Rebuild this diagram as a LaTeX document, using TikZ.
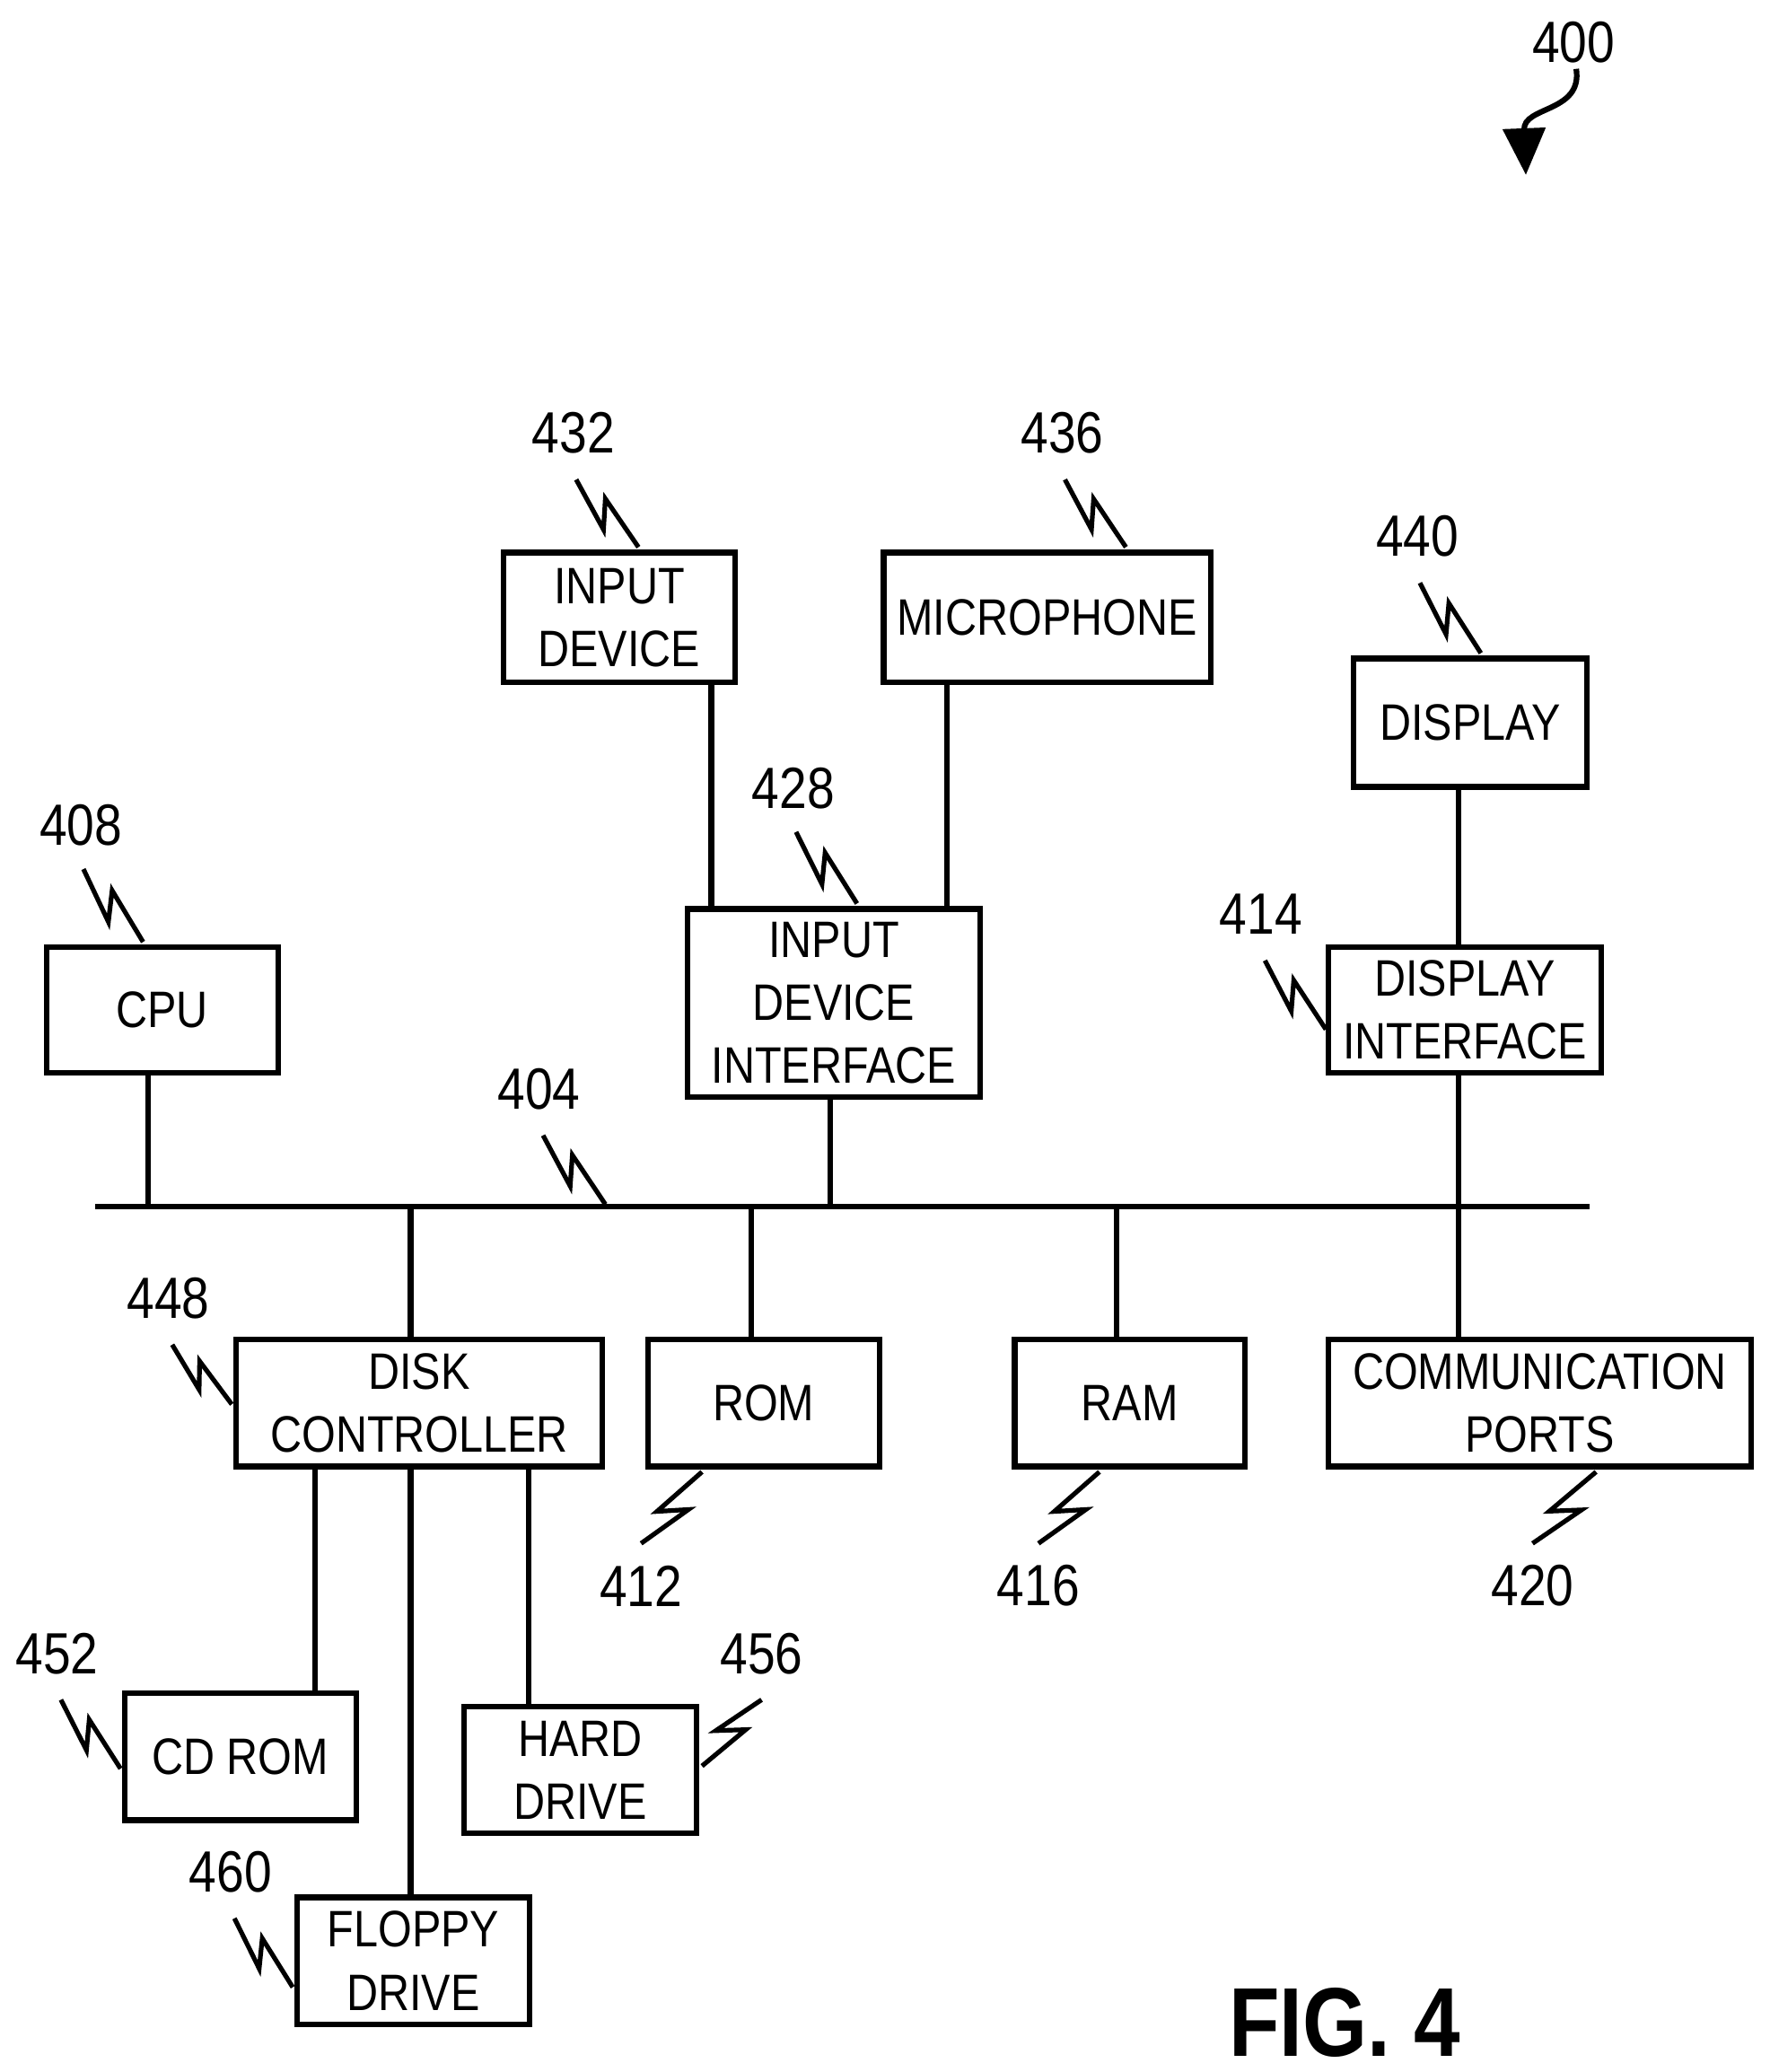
\documentclass[tikz,border=0pt]{standalone}
\usepackage{fontspec}
\setmainfont{Liberation Sans}[FakeStretch=0.85]
\usetikzlibrary{calc,arrows.meta}
\tikzset{
    blk/.style={draw,line width=1.2pt,align=center,inner sep=0pt,
        font=\fontsize{11}{13.5}\selectfont},
    num/.style={font=\fontsize{12.5}{15}\selectfont,inner sep=1pt},
    wire/.style={line width=1.2pt},
}
\newcommand{\leader}[2]{\draw[line width=1pt] (#1) -- ($(#1)!0.62!-14:(#2)$) -- ($(#1)!0.38!14:(#2)$) -- (#2);}
\newcommand{\blkbox}[4]{\node[blk,minimum width=#3*0.01cm-1.2pt,minimum height=#4*0.01cm-1.2pt,anchor=north west] at (#1,#2)}
\begin{document}
\begin{tikzpicture}[x=0.01cm,y=-0.01cm]
    \useasboundingbox (0,0) rectangle (1336,1564);
    % boxes
    \blkbox{378}{415}{179}{102} (indev) {INPUT\\DEVICE};
    \blkbox{665}{415}{251}{102} (mic) {MICROPHONE};
    \blkbox{1020}{495}{180}{101} (disp) {DISPLAY};
    \blkbox{33}{713}{179}{99} (cpu) {CPU};
    \blkbox{517}{684}{225}{146} (idi) {INPUT\\DEVICE\\INTERFACE};
    \blkbox{1001}{713}{210}{99} (dint) {DISPLAY\\INTERFACE};
    \blkbox{176}{1009}{281}{100} (dctl) {DISK\\CONTROLLER};
    \blkbox{487}{1009}{179}{100} (rom) {ROM};
    \blkbox{764}{1009}{178}{100} (ram) {RAM};
    \blkbox{1001}{1009}{323}{100} (comm) {COMMUNICATION\\PORTS};
    \blkbox{92}{1276}{179}{100} (cdrom) {CD ROM};
    \blkbox{348}{1286}{180}{100} (hdd) {HARD\\DRIVE};
    \blkbox{222}{1430}{180}{100} (fdd) {FLOPPY\\DRIVE};
    % bus
    \coordinate (busL) at (72,911);
    \coordinate (busR) at (1200,911);
    \draw[wire] (busL) -- (busR);
    \foreach \x in {112,238,310,399,537,567,627,715,843,1101}
        \coordinate (x\x) at (\x,911);
    \draw[wire] (cpu.south -| x112) -- (x112);
    \draw[wire] (indev.south -| x537) -- (idi.north -| x537);
    \draw[wire] (mic.south -| x715) -- (idi.north -| x715);
    \draw[wire] (idi.south -| x627) -- (x627);
    \draw[wire] (disp.south -| x1101) -- (dint.north -| x1101);
    \draw[wire] (dint.south -| x1101) -- (comm.north -| x1101);
    \draw[wire] (x310) -- (dctl.north -| x310);
    \draw[wire] (rom.north -| x567) -- (x567);
    \draw[wire] (ram.north -| x843) -- (x843);
    \draw[wire] (dctl.south -| x238) -- (cdrom.north -| x238);
    \draw[wire] (dctl.south -| x399) -- (hdd.north -| x399);
    \draw[wire] (dctl.south -| x310) -- (fdd.north -| x310);
    % reference numbers
    \node[num] (n400) at (1188,32) {400};
    \draw[line width=1.2pt,-{Triangle[length=10pt,width=9pt]}] (1190,52) .. controls (1195,85) and (1150,80) .. (1152,132);
    \foreach \n/\lx/\ly/\ax/\ay/\bx/\by in {
        432/433/327/435/362/482/413,
        436/802/327/804/362/850/413,
        440/1070/405/1072/440/1118/493,
        408/61/623/63/656/108/711,
        428/599/595/601/628/647/682,
        414/952/690/955/725/1001/777,
        404/407/822/410/857/457/909,
        448/127/980/130/1015/175/1060,
        412/484/1197/484/1165/530/1111,
        416/784/1197/784/1165/830/1111,
        420/1157/1197/1157/1165/1205/1111,
        452/43/1248/46/1283/91/1335,
        456/575/1248/575/1283/530/1333,
        460/174/1413/177/1448/221/1500}
    {
        \node[num] (n\n) at (\lx,\ly) {\n};
        \coordinate (n\n a) at (\ax,\ay);
        \coordinate (n\n b) at (\bx,\by);
        \leader{n\n a}{n\n b}
    }
    \node[font=\bfseries\fontsize{21}{25}\selectfont] (fig) at (1015,1527) {FIG. 4};
\end{tikzpicture}
\end{document}
